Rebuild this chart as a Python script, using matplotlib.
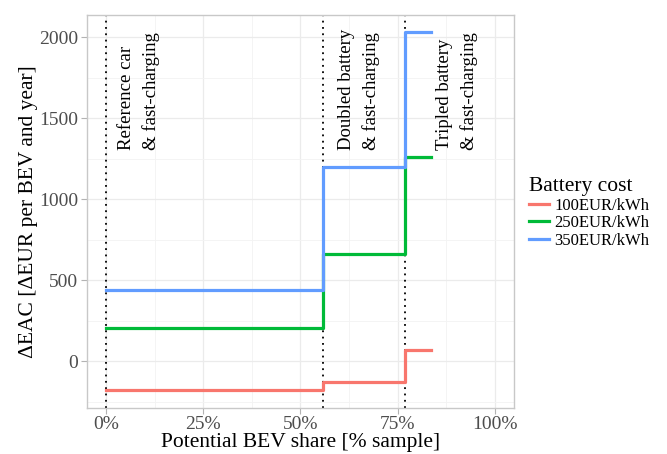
import matplotlib
matplotlib.use("Agg")
from matplotlib import pyplot as plt
from matplotlib.ticker import FixedLocator, FuncFormatter

plt.rcParams['font.family'] = ['Liberation Serif', 'DejaVu Serif']

# step positions (share of sample) and EAC differences per battery cost
share = [0, 0.559, 0.769, 0.837]
cost_100 = [-179, -128, 66, 66]
cost_250 = [206, 660, 1261, 1261]
cost_350 = [438, 1199, 2029, 2029]
series_labels = ['100EUR/kWh', '250EUR/kWh', '350EUR/kWh']
colors = ['#F8766D', '#00BA38', '#619CFF']

vlines = [0, 0.559, 0.769]
notes = ['Reference car\n& fast-charging', 'Doubled battery\n& fast-charging',
         'Tripled battery\n& fast-charging']
note_x = [0.030, 0.597, 0.848]

fig = plt.figure(figsize=(6.67, 4.54), dpi=100)
ax = fig.add_axes([0.130, 0.101, 0.641, 0.866])

ax.set_xlim(-0.05, 1.05)
ax.set_ylim(-290, 2137)

ax.xaxis.set_major_locator(FixedLocator([0, 0.25, 0.5, 0.75, 1.0]))
ax.xaxis.set_minor_locator(FixedLocator([0.125, 0.375, 0.625, 0.875]))
ax.xaxis.set_major_formatter(FuncFormatter(lambda v, p: f"{v*100:.0f}%"))
ax.yaxis.set_major_locator(FixedLocator([0, 500, 1000, 1500, 2000]))
ax.yaxis.set_minor_locator(FixedLocator([-250, 250, 750, 1250, 1750]))

ax.grid(which='major', color='#EBEBEB', lw=0.9)
ax.grid(which='minor', color='#F3F3F3', lw=0.6)
ax.set_axisbelow(True)
for s in ax.spines.values():
    s.set_color('#C8C8C8')
    s.set_linewidth(1.0)
ax.tick_params(which='major', length=4, color='#B3B3B3', labelsize=14,
               labelcolor='#4D4D4D', pad=2)
ax.tick_params(which='minor', length=0)

for xv in vlines:
    ax.axvline(xv, color='black', ls=(0, (1, 2.5)), lw=1.3, zorder=1)

for ys, c, lab in zip([cost_100, cost_250, cost_350], colors, series_labels):
    ax.step(share, ys, where='post', color=c, lw=2.3, label=lab, zorder=3)

for xv, t in zip(note_x, notes):
    ax.text(xv, 1302, t, rotation=90, ha='left', va='top',
            multialignment='left', fontsize=13.5, linespacing=1.5,
            rotation_mode='anchor')

ax.set_xlabel('Potential BEV share [% sample]', fontsize=15.5, labelpad=0)
ax.set_ylabel('ΔEAC [ΔEUR per BEV and year]', fontsize=15.5, labelpad=1)

leg = ax.legend(loc='upper left', bbox_to_anchor=(1.02, 0.605), frameon=False,
                title='Battery cost', fontsize=12, title_fontsize=15.5,
                handlelength=1.2, handletextpad=0.3, labelspacing=0.1,
                borderaxespad=0)
leg._legend_box.align = 'left'

fig.savefig('out.png', dpi=100)
